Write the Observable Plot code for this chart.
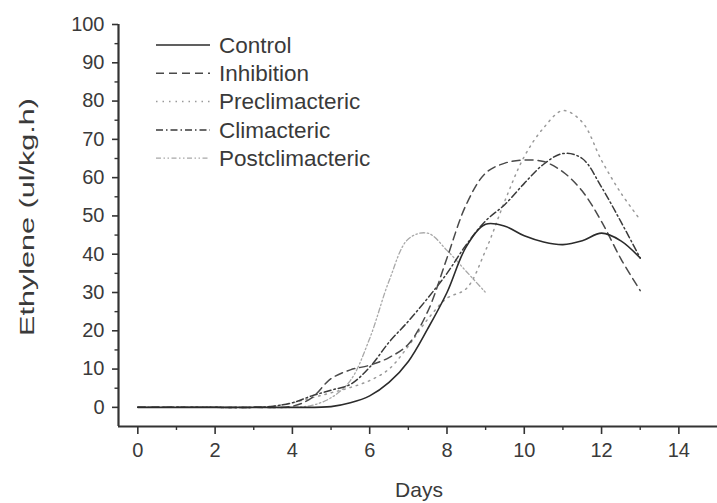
<!DOCTYPE html>
<html>
<head>
<meta charset="utf-8">
<script src="https://cdn.jsdelivr.net/npm/d3@7"></script>
<script src="https://cdn.jsdelivr.net/npm/@observablehq/plot@0.6"></script>
<style>
  body { margin: 0; background: #fff; }
  #chart { width: 717px; height: 503px; }
</style>
</head>
<body>
<div id="chart"></div>
<script>
// ---- data ----
const seriesNames = ["Control", "Inhibition", "Preclimacteric", "Climacteric", "Postclimacteric"];

const controlDays   = [0, 1, 2, 3, 4, 5, 5.5, 6, 6.5, 7, 7.5, 8, 8.5, 9, 9.5, 10, 10.5, 11, 11.5, 12, 12.5, 13];
const controlValues = [0, 0, 0, 0, 0, 0.2, 1.2, 3, 6.5, 12, 20.5, 30, 42, 47.8, 47.3, 44.8, 43.2, 42.5, 43.5, 45.5, 43.5, 39];

const inhibitionDays   = [0, 1, 2, 3, 4, 4.5, 5, 5.5, 6, 6.5, 7, 7.5, 8, 8.5, 9, 9.5, 10, 10.5, 11, 11.5, 12, 12.5, 13];
const inhibitionValues = [0, 0, 0, 0, 0.3, 2.5, 7.5, 9.8, 11, 13, 16.5, 25, 39, 53, 61.2, 63.8, 64.6, 64.2, 61.5, 56.5, 48.5, 38.8, 30.5];

const preDays   = [0, 1, 2, 3, 3.5, 4, 4.5, 5, 5.5, 6, 6.5, 7, 7.5, 8, 8.5, 9, 9.5, 10, 10.5, 11, 11.5, 12, 12.5, 13];
const preValues = [0, 0, 0, 0, 0.3, 1.2, 2.5, 3.8, 5.2, 7, 10, 16, 23, 28.5, 31, 41, 54, 65.5, 73, 77.5, 74.5, 64.5, 56, 49];

const climDays   = [0, 1, 2, 3, 3.5, 4, 4.5, 5, 5.5, 6, 6.5, 7, 7.5, 8, 8.5, 9, 9.5, 10, 10.5, 11, 11.5, 12, 12.5, 13];
const climValues = [0, 0, 0, 0, 0.3, 1.2, 3, 4.5, 6, 10.5, 17, 22.5, 28.5, 35, 42.5, 48.7, 53, 58.5, 63.5, 66.3, 65, 57.5, 48.5, 39];

const postDays   = [0, 1, 2, 3, 4, 4.5, 5, 5.5, 6, 6.5, 7, 7.5, 8, 8.5, 9];
const postValues = [0, 0, 0, 0, 0, 0.5, 2.5, 7, 18, 33, 44, 45.5, 41, 35.5, 30];

const xTicks = [0, 2, 4, 6, 8, 10, 12, 14];
const xMinorTicks = [1, 3, 5, 7, 9, 11, 13];
const yTicks = [0, 10, 20, 30, 40, 50, 60, 70, 80, 90, 100];
const yMinorTicks = [5, 15, 25, 35, 45, 55, 65, 75, 85, 95];

const xLabel = "Days";
const yLabel = "Ethylene (ul/kg.h)";

// ---- styles ----
const styles = {
  "Control":         {stroke: "#2b2b2b", dash: null,          width: 1.6},
  "Inhibition":      {stroke: "#4a4a4a", dash: "8,5",         width: 1.5},
  "Preclimacteric":  {stroke: "#9a9a9a", dash: "1.5,5",       width: 1.5},
  "Climacteric":     {stroke: "#3a3a3a", dash: "7,3,1.5,3",   width: 1.5},
  "Postclimacteric": {stroke: "#a8a8a8", dash: "5,2.5,1.5,2.5,1.5,2.5", width: 1.3}
};

const seriesData = {
  "Control": controlDays.map((d, i) => ({day: d, value: controlValues[i]})),
  "Inhibition": inhibitionDays.map((d, i) => ({day: d, value: inhibitionValues[i]})),
  "Preclimacteric": preDays.map((d, i) => ({day: d, value: preValues[i]})),
  "Climacteric": climDays.map((d, i) => ({day: d, value: climValues[i]})),
  "Postclimacteric": postDays.map((d, i) => ({day: d, value: postValues[i]}))
};

const drawOrder = ["Postclimacteric", "Preclimacteric", "Climacteric", "Inhibition", "Control"];

const xDomain = [-0.5, 15];
const yDomain = [-5, 100];

const chart = Plot.plot({
  width: 717,
  height: 503,
  marginLeft: 118,
  marginRight: 0,
  marginTop: 24,
  marginBottom: 77,
  style: {fontFamily: "'Liberation Sans', Arial, sans-serif", fontSize: "20px", color: "#333", background: "#fff"},
  x: {domain: xDomain},
  y: {domain: yDomain},
  marks: [
    Plot.axisX({ticks: xTicks, tickSize: 8, tickPadding: 8, label: null, stroke: "#333", strokeWidth: 1.6, fontSize: 20, fill: "#3a3a3a"}),
    Plot.axisX({ticks: xMinorTicks, tickSize: 4, tickFormat: () => "", label: null, stroke: "#333", strokeWidth: 1.4}),
    Plot.axisY({ticks: yTicks, tickSize: 6, tickPadding: 8, label: null, stroke: "#333", strokeWidth: 1.6, fontSize: 20, fill: "#3a3a3a"}),
    Plot.axisY({ticks: yMinorTicks, tickSize: 3.5, tickFormat: () => "", label: null, stroke: "#333", strokeWidth: 1.4}),
    Plot.ruleY([yDomain[0]], {stroke: "#333", strokeWidth: 2.2}),
    Plot.ruleX([xDomain[0]], {stroke: "#333", strokeWidth: 2.2}),
    ...drawOrder.map(name => Plot.line(seriesData[name], {
      x: "day", y: "value",
      curve: "catmull-rom",
      stroke: styles[name].stroke,
      strokeWidth: styles[name].width,
      strokeDasharray: styles[name].dash
    }))
  ]
});

document.getElementById("chart").appendChild(chart);

// ---- axis titles and legend ----
const svg = d3.select(chart);
svg.append("text")
  .attr("transform", "translate(27,217) rotate(-90)")
  .attr("text-anchor", "middle")
  .attr("dy", "0.35em")
  .attr("font-size", 21)
  .attr("textLength", 238)
  .attr("lengthAdjust", "spacingAndGlyphs")
  .attr("fill", "#3a3a3a")
  .text(yLabel);

svg.append("text")
  .attr("x", 419)
  .attr("y", 497)
  .attr("text-anchor", "middle")
  .attr("font-size", 21)
  .attr("fill", "#3a3a3a")
  .text(xLabel);

const legend = svg.append("g").attr("text-anchor", "start");
seriesNames.forEach((name, i) => {
  const y = 45 + i * 28.3;
  legend.append("line")
    .attr("x1", 156).attr("x2", 210).attr("y1", y).attr("y2", y)
    .attr("stroke", styles[name].stroke)
    .attr("stroke-width", styles[name].width)
    .attr("stroke-dasharray", styles[name].dash);
  legend.append("text")
    .attr("x", 219).attr("y", y).attr("dy", "0.35em")
    .attr("text-anchor", "start")
    .attr("font-size", 22.5)
    .attr("fill", "#3a3a3a")
    .text(name);
});
</script>
</body>
</html>
